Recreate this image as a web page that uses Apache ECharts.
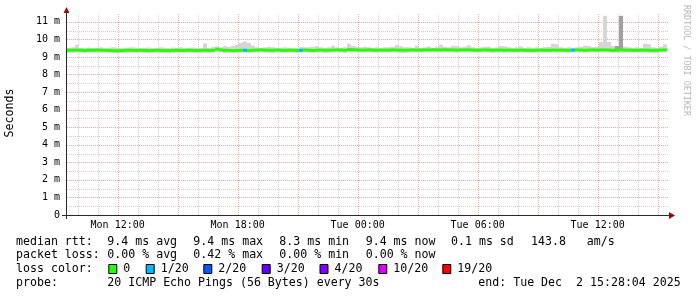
<!DOCTYPE html>
<html><head><meta charset="utf-8">
<script src="https://cdn.jsdelivr.net/npm/echarts@6/dist/echarts.min.js"></script>
<style>html,body{margin:0;padding:0;background:#fff}#c{width:697px;height:297px}</style>
</head><body><div id="c"></div>
<script>
// ---- time axis (hours since Mon 00:00) ----
const startHour = 9 + 28/60 + 4/3600;   // Mon 09:28:04
const stepHours = 0.2;                   // 12 min per sample
const spanHours = 30;
const xTickHours = [12, 18, 24, 30, 36];
const xTickLabels = ['Mon 12:00', 'Mon 18:00', 'Tue 00:00', 'Tue 06:00', 'Tue 12:00'];
const yTickValues = [0,1,2,3,4,5,6,7,8,9,10,11];
const yTickLabels = ['0','1 m','2 m','3 m','4 m','5 m','6 m','7 m','8 m','9 m','10 m','11 m'];
const yMax = 11.5;

// ---- median rtt (ms) ----
const median = [
 9.38,9.38,9.39,9.38,9.37,9.38,9.38,9.39,9.38,9.37,
 9.37,9.36,9.35,9.36,9.37,9.38,9.37,9.37,9.38,9.37,
 9.36,9.37,9.38,9.37,9.36,9.36,9.37,9.38,9.37,9.37,
 9.38,9.37,9.36,9.37,9.38,9.37,9.38,9.44,9.40,9.38,
 9.37,9.36,9.37,9.38,9.38,9.37,9.38,9.39,9.40,9.39,
 9.38,9.38,9.39,9.38,9.37,9.38,9.38,9.37,9.38,9.39,
 9.38,9.37,9.38,9.39,9.38,9.38,9.39,9.40,9.39,9.38,
 9.42,9.41,9.40,9.39,9.39,9.40,9.39,9.38,9.39,9.39,
 9.39,9.40,9.39,9.39,9.38,9.39,9.40,9.39,9.39,9.40,
 9.40,9.41,9.40,9.40,9.41,9.40,9.40,9.39,9.40,9.40,
 9.40,9.39,9.38,9.39,9.40,9.39,9.38,9.39,9.39,9.38,
 9.39,9.38,9.38,9.39,9.38,9.38,9.37,9.38,9.39,9.38,
 9.38,9.39,9.38,9.39,9.38,9.38,9.39,9.40,9.39,9.38,
 9.39,9.40,9.39,9.40,9.40,9.39,9.38,9.38,9.40,9.39,
 9.39,9.38,9.38,9.39,9.39,9.38,9.37,9.38,9.39,9.40
];
// ---- smoke (max / min of pings, ms) ----
const smokeHi = [
 9.52,9.55,9.68,9.52,9.50,9.53,9.51,9.52,9.55,9.50,
 9.52,9.55,9.53,9.50,9.52,9.54,9.55,9.52,9.50,9.52,
 9.54,9.50,9.52,9.55,9.52,9.51,9.53,9.52,9.55,9.50,
 9.52,9.54,9.52,9.50,9.77,9.52,9.56,9.60,9.55,9.62,
 9.58,9.62,9.70,9.80,9.88,9.80,9.65,9.55,9.52,9.55,
 9.58,9.55,9.52,9.53,9.55,9.52,9.50,9.52,9.56,9.55,
 9.55,9.58,9.62,9.55,9.52,9.55,9.64,9.55,9.52,9.55,
 9.75,9.62,9.58,9.55,9.58,9.55,9.52,9.55,9.52,9.55,
 9.55,9.58,9.68,9.60,9.55,9.55,9.52,9.64,9.53,9.55,
 9.60,9.52,9.58,9.70,9.58,9.55,9.64,9.62,9.55,9.58,
 9.66,9.55,9.52,9.55,9.58,9.58,9.52,9.55,9.62,9.60,
 9.55,9.52,9.55,9.60,9.52,9.55,9.52,9.55,9.52,9.55,
 9.58,9.75,9.72,9.55,9.52,9.55,9.52,9.55,9.58,9.64,
 9.62,9.55,9.58,9.86,11.34,9.86,9.62,9.60,9.72,9.58,
 9.55,9.52,9.55,9.52,9.75,9.72,9.55,9.52,9.58,9.72
];
const smokeLo = [
 9.24,9.23,9.25,9.24,9.22,9.24,9.25,9.23,9.24,9.25,
 9.23,9.22,9.21,9.22,9.23,9.24,9.23,9.22,9.24,9.23,
 9.22,9.23,9.24,9.23,9.22,9.20,9.23,9.24,9.23,9.22,
 9.24,9.23,9.22,9.23,9.24,9.23,9.24,9.28,9.25,9.21,
 9.23,9.22,9.23,9.24,9.24,9.22,9.24,9.25,9.26,9.25,
 9.24,9.21,9.25,9.24,9.23,9.24,9.24,9.23,9.24,9.25,
 9.24,9.23,9.24,9.25,9.22,9.24,9.25,9.26,9.25,9.24,
 9.28,9.27,9.26,9.25,9.25,9.26,9.25,9.24,9.25,9.25,
 9.25,9.26,9.25,9.23,9.24,9.25,9.26,9.25,9.25,9.26,
 9.26,9.27,9.26,9.26,9.27,9.26,9.26,9.23,9.26,9.26,
 9.26,9.25,9.24,9.25,9.26,9.25,9.23,9.25,9.25,9.24,
 9.25,9.24,9.24,9.25,9.24,9.24,9.23,9.24,9.25,9.24,
 9.24,9.25,9.24,9.25,9.24,9.24,9.25,9.26,9.25,9.24,
 9.25,9.26,9.25,9.26,9.26,9.25,9.24,9.24,9.23,9.25,
 9.25,9.24,9.24,9.25,9.25,9.24,9.23,9.20,9.25,9.26
];
// darker smoke pieces: [sample index, low, high]
const darkSmoke = [[137, 9.36, 9.62], [138, 9.36, 11.34]];
// ---- lost pings per sample (of 20) ----
const lossCount = [
 0,0,0,0,0,0,0,0,0,0, 0,0,0,0,0,0,0,0,0,0, 0,0,0,0,0,0,0,0,0,0,
 0,0,0,0,0,0,0,0,0,0, 0,0,0,0,1,0,0,0,0,0, 0,0,0,0,0,0,0,0,1,0,
 0,0,0,0,0,0,0,0,0,0, 0,0,0,0,0,0,0,0,0,0, 0,0,0,0,0,0,0,0,0,0,
 0,0,0,0,0,0,0,0,0,0, 0,0,0,0,0,0,0,0,0,0, 0,0,0,0,0,0,0,0,0,0,
 0,0,0,0,0,0,1,0,0,0, 0,0,0,0,0,0,0,0,0,0, 0,0,0,0,0,0,0,0,0,0
];
// ---- loss colour legend ----
const lossThresholds = [0, 1, 2, 3, 4, 10, 19];
const lossLabels = ['0', '1/20', '2/20', '3/20', '4/20', '10/20', '19/20'];
const lossColors = ['#26ff00', '#00b8ff', '#0059ff', '#5e00ff', '#7e00ff', '#dd00ff', '#ff0000'];
// ---- statistics text ----
const statLines = [
  ['median rtt:', '9.4 ms avg', '9.4 ms max', '8.3 ms min', '9.4 ms now', '0.1 ms sd', '143.8', 'am/s'],
  ['packet loss:', '0.00 % avg', '0.42 % max', '0.00 % min', '0.00 % now']
];
const probeText = ['probe:', '20 ICMP Echo Pings (56 Bytes) every 30s', 'end: Tue Dec  2 15:28:04 2025'];

function lossColor(k) {
  let c = lossColors[0];
  for (let j = 0; j < lossThresholds.length; j++) if (k >= lossThresholds[j]) c = lossColors[j];
  return c;
}
const t = i => startHour + i * stepHours;

const vGrid = [];
for (let h = Math.ceil(startHour); h < startHour + spanHours; h++) vGrid.push([h, h % 3 === 0 ? 1 : 0]);
const hGrid = [];
for (let v = 0.5; v < yMax; v += 0.5) hGrid.push([v, Number.isInteger(v) ? 1 : 0]);

const MONO = 'DejaVu Sans Mono';
const gridStyle = m => ({ stroke: m ? '#eea8a8' : '#d2d2d2', lineWidth: 1, lineDash: [1, 1] });

const chart = echarts.init(document.getElementById('c'), null, { renderer: 'canvas' });

const graphics = [];
// statistics lines
const lineY = [241.7, 255, 269.3, 282.7];
const statX = [16, 107.3, 193.3, 279.3, 365.7, 451, 531, 586.7];
statLines.forEach((row, r) => row.forEach((s, k) => graphics.push({
  type: 'text', x: statX[k], y: lineY[r], silent: true,
  style: { text: s, fontFamily: MONO, fontSize: 11.6, fill: '#000', verticalAlign: 'middle' }
})));
graphics.push({ type: 'text', x: 16, y: lineY[2], silent: true,
  style: { text: 'loss color:', fontFamily: MONO, fontSize: 11.6, fill: '#000', verticalAlign: 'middle' } });
const sqX = [108.3, 145.7, 203.3, 261.7, 319.5, 378.3, 442.3];
lossLabels.forEach((lab, k) => {
  graphics.push({ type: 'rect', silent: true, shape: { x: sqX[k] + 0.5, y: 264.5, width: 8, height: 9 },
    style: { fill: lossColors[k], stroke: '#000', lineWidth: 1 } });
  graphics.push({ type: 'text', x: sqX[k] + 15, y: lineY[2], silent: true,
    style: { text: lab, fontFamily: MONO, fontSize: 11.6, fill: '#000', verticalAlign: 'middle' } });
});
[16, 107.3, 478.3].forEach((x, k) => graphics.push({ type: 'text', x: x, y: lineY[3], silent: true,
  style: { text: probeText[k], fontFamily: MONO, fontSize: 11.6, fill: '#000', verticalAlign: 'middle' } }));
// axis title and watermark
graphics.push({ type: 'text', x: 10, y: 113, rotation: Math.PI / 2, silent: true,
  style: { text: 'Seconds', fontFamily: MONO, fontSize: 11.6, fill: '#000', align: 'center', verticalAlign: 'middle' } });
graphics.push({ type: 'text', x: 686, y: 5, rotation: -Math.PI / 2, silent: true,
  style: { text: 'RRDTOOL / TOBI OETIKER', fontFamily: MONO, fontSize: 8.4, fill: '#b8b8b8', align: 'left', verticalAlign: 'middle' } });
// axis lines and arrows
graphics.push({ type: 'line', silent: true, z: 50, shape: { x1: 62, y1: 215.5, x2: 670, y2: 215.5 }, style: { stroke: '#2a2a2a', lineWidth: 1 } });
graphics.push({ type: 'line', silent: true, z: 50, shape: { x1: 66.5, y1: 219, x2: 66.5, y2: 12 }, style: { stroke: '#2a2a2a', lineWidth: 1 } });
graphics.push({ type: 'polygon', silent: true, z: 51, shape: { points: [[63.5, 13], [69.5, 13], [66.5, 7]] }, style: { fill: '#8b1010' } });
graphics.push({ type: 'polygon', silent: true, z: 51, shape: { points: [[669, 212], [669, 219], [675, 215.5]] }, style: { fill: '#8b1010' } });

const option = {
  animation: false,
  backgroundColor: '#ffffff',
  grid: { left: 67, top: 13, width: 600, height: 202 },
  xAxis: {
    type: 'value', min: startHour, max: startHour + spanHours,
    axisLine: { show: false }, axisTick: { show: false }, splitLine: { show: false },
    axisLabel: {
      customValues: xTickHours,
      formatter: v => { const k = xTickHours.indexOf(Math.round(v)); return k >= 0 ? xTickLabels[k] : ''; },
      fontFamily: MONO, fontSize: 10, color: '#000', margin: 5
    }
  },
  yAxis: {
    type: 'value', min: 0, max: yMax,
    axisLine: { show: false }, axisTick: { show: false }, splitLine: { show: false },
    axisLabel: {
      customValues: yTickValues,
      formatter: v => { const k = yTickValues.indexOf(Math.round(v)); return k >= 0 ? yTickLabels[k] : ''; },
      fontFamily: MONO, fontSize: 10, color: '#000', margin: 7
    }
  },
  series: [
    { type: 'custom', z: 1, silent: true, data: vGrid,
      renderItem: (p, api) => {
        const a = api.coord([api.value(0), 0]), b = api.coord([api.value(0), yMax]);
        const x = Math.round(a[0]) + 0.5;
        return { type: 'line', shape: { x1: x, y1: a[1], x2: x, y2: b[1] }, style: gridStyle(api.value(1)) };
      } },
    { type: 'custom', z: 1, silent: true, data: hGrid,
      renderItem: (p, api) => {
        const a = api.coord([startHour, api.value(0)]), b = api.coord([startHour + spanHours, api.value(0)]);
        const y = Math.round(a[1]) + 0.5;
        return { type: 'line', shape: { x1: a[0], y1: y, x2: b[0] + 1, y2: y }, style: gridStyle(api.value(1)) };
      } },
    { type: 'custom', z: 3, silent: true,
      data: smokeLo.map((lo, i) => [t(i), lo, smokeHi[i]]),
      renderItem: (p, api) => {
        const a = api.coord([api.value(0), api.value(2)]);
        const b = api.coord([api.value(0) + stepHours, api.value(1)]);
        return { type: 'rect', shape: { x: a[0], y: a[1], width: b[0] - a[0], height: b[1] - a[1] }, style: { fill: '#d6d6d6' } };
      } },
    { type: 'custom', z: 4, silent: true,
      data: darkSmoke.map(d => [t(d[0]), d[1], d[2]]),
      renderItem: (p, api) => {
        const a = api.coord([api.value(0), api.value(2)]);
        const b = api.coord([api.value(0) + stepHours, api.value(1)]);
        return { type: 'rect', shape: { x: a[0], y: a[1], width: b[0] - a[0], height: b[1] - a[1] }, style: { fill: '#a0a0a0' } };
      } },
    { type: 'custom', z: 5, silent: true,
      data: median.map((m, i) => [t(i), m, lossCount[i]]),
      renderItem: (p, api) => {
        const a = api.coord([api.value(0), api.value(1)]);
        const b = api.coord([api.value(0) + stepHours, api.value(1)]);
        return { type: 'rect', shape: { x: a[0], y: a[1] - 1.5, width: b[0] - a[0], height: 3 }, style: { fill: lossColor(api.value(2)) } };
      } }
  ],
  graphic: graphics
};
chart.setOption(option);
</script></body></html>
